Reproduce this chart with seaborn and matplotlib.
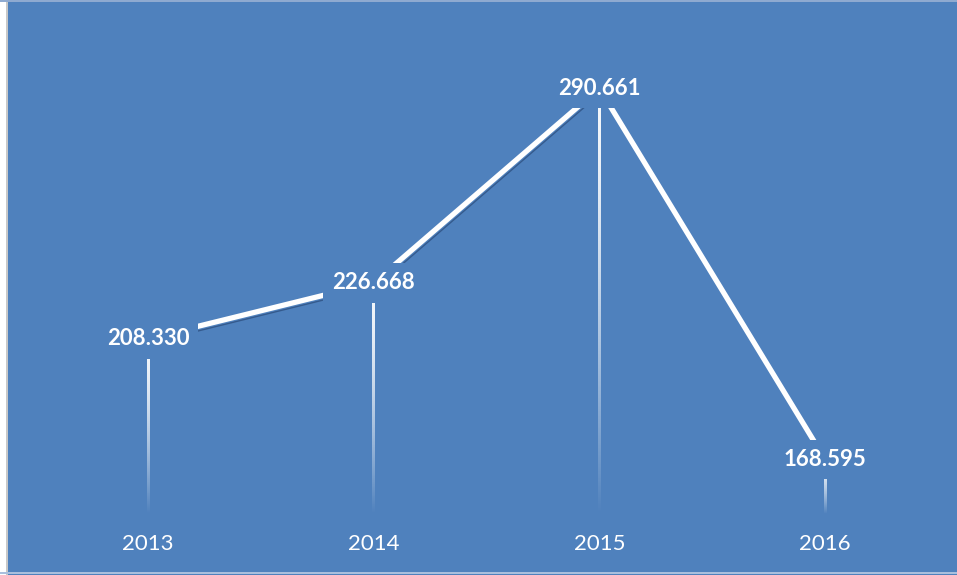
import numpy as np
import pandas as pd
import matplotlib
matplotlib.use("Agg")
import matplotlib.pyplot as plt
import matplotlib.patheffects as pe
from matplotlib.patches import Rectangle
import seaborn as sns

years = ["2013", "2014", "2015", "2016"]
values = [208.330, 226.668, 290.661, 168.595]
labels = ["208.330", "226.668", "290.661", "168.595"]

BG = "#4F81BD"

sns.set_style("white")
plt.rcParams["font.family"] = ["Lato", "DejaVu Sans"]

df = pd.DataFrame({"year": years, "value": values})
df["pos"] = np.arange(len(years))

fig = plt.figure(figsize=(9.57, 5.75), dpi=100, facecolor=BG)
ax_w_px, ax_h_px = 903, 456
ax = fig.add_axes([35 / 957, 59 / 575, ax_w_px / 957, ax_h_px / 575])
ax.set_facecolor(BG)

ymin, ymax = 150, 300
ax.set_xlim(-0.5, len(years) - 0.5)
ax.set_ylim(ymin, ymax)

# drop lines with vertical gradient (white -> transparent)
half_w = 1.2 * (len(years) / ax_w_px)  # ~1.2 px in data units
grad = np.zeros((256, 1, 4))
t = np.linspace(0, 1, 256)[:, None]  # 0 at top, 1 at bottom
grad[..., 0:3] = 1.0
grad[..., 3] = np.clip(1.0 - t ** 1.6, 0, 1) * 0.95
for x, v in zip(df["pos"], df["value"]):
    ax.imshow(grad, extent=(x - half_w, x + half_w, ymin + 0.5, v), aspect="auto",
              origin="upper", zorder=2, interpolation="bilinear")
ax.set_xlim(-0.5, len(years) - 0.5)
ax.set_ylim(ymin, ymax)

sns.lineplot(data=df, x="pos", y="value", ax=ax, color="white", linewidth=3.8,
             zorder=3, legend=False,
             path_effects=[pe.SimpleLineShadow(offset=(1.5, -3), shadow_color="#1F3B66",
                                               alpha=0.55, linewidth=1.0),
                           pe.Normal()])

for x, v, lab in zip(df["pos"], df["value"], labels):
    ax.text(x, v, lab, ha="center", va="center", color="white", fontsize=16,
            fontweight="bold", zorder=5,
            bbox=dict(boxstyle="square,pad=0.42", facecolor=BG, edgecolor="none"))

ax.set_xticks(df["pos"])
ax.set_xticklabels(years, color="white", fontsize=16)
ax.tick_params(axis="x", length=0, pad=13)
ax.set_yticks([])
ax.set_xlabel("")
ax.set_ylabel("")
for s in ax.spines.values():
    s.set_visible(False)

# frame details
fig.patches.append(Rectangle((0, 0), 6 / 957, 1, transform=fig.transFigure,
                             facecolor="white", edgecolor="none", zorder=10))
fig.patches.append(Rectangle((6 / 957, 0), 1.5 / 957, 1, transform=fig.transFigure,
                             facecolor="#C8C8C8", edgecolor="none", zorder=10))
fig.patches.append(Rectangle((0, 1 - 1.5 / 575), 1, 1.5 / 575, transform=fig.transFigure,
                             facecolor="#8FAAD0", edgecolor="none", zorder=10))
fig.patches.append(Rectangle((0, 1.5 / 575), 1, 1.5 / 575, transform=fig.transFigure,
                             facecolor="#A9BFDD", edgecolor="none", zorder=10))

fig.savefig("out.png", dpi=100, facecolor=BG)
